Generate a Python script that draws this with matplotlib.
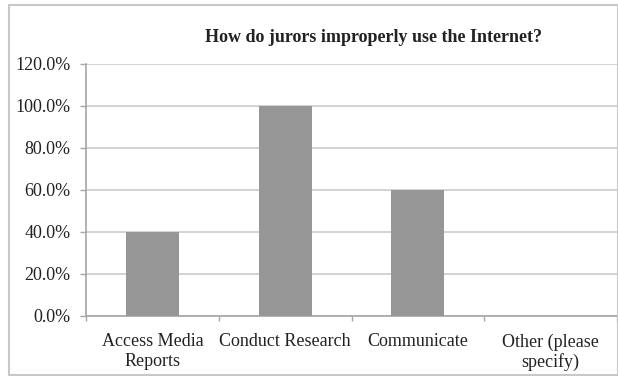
import matplotlib
matplotlib.use("Agg")
import matplotlib.pyplot as plt
from matplotlib.ticker import FuncFormatter, MultipleLocator
from matplotlib.patches import Rectangle
import numpy as np

categories = ["Access Media\nReports", "Conduct Research", "Communicate", "Other (please\nspecify)"]
values = [40.0, 100.0, 60.0, 0.0]
title = "How do jurors improperly use the Internet?"

plt.rcParams['font.family'] = ['Liberation Serif', 'DejaVu Serif']

fig = plt.figure(figsize=(6.18, 3.76), dpi=100)
y0, y1 = 316.0, 64.0
ax = fig.add_axes([86/618, 1-y0/376, (617-86)/618, (y0-y1)/376])

x = np.arange(len(categories))
ax.bar(x, values, width=0.4, color="#969696", zorder=3)

ax.set_xlim(-0.5, len(categories)-0.5)
ax.set_ylim(0, 120)
ax.yaxis.set_major_locator(MultipleLocator(20))
ax.yaxis.set_major_formatter(FuncFormatter(lambda v, p: f"{v:.1f}%"))
ax.grid(axis='y', color="#cfcfcf", linewidth=1.3, zorder=0)

ax.set_xticks(x)
ax.set_xticklabels(categories, fontsize=13, color="#222222", linespacing=1.2)
ax.set_xticks(np.arange(len(categories)+1)-0.5, minor=True)
ax.tick_params(axis='x', which='major', length=0, pad=12.5)
ax.tick_params(axis='x', which='minor', length=3.5, color="#a6a6a6", width=1)
ax.tick_params(axis='y', length=4.3, color="#a6a6a6", width=1, labelsize=13, labelcolor="#222222", pad=7)

for s in ['top', 'right']:
    ax.spines[s].set_visible(False)
for s in ['left', 'bottom']:
    ax.spines[s].set_color("#a6a6a6")
    ax.spines[s].set_linewidth(1.2)

fig.text(374/618, 1-37/376, title, ha='center', va='center', fontsize=13, fontweight='bold', color="#222222")

border = Rectangle((9/618, 1-375/376), (618-9)/618, (375-5)/376, transform=fig.transFigure,
                   fill=False, edgecolor="#c8c8c8", linewidth=1.5)
fig.patches.append(border)

fig.savefig("out.png", dpi=100)
